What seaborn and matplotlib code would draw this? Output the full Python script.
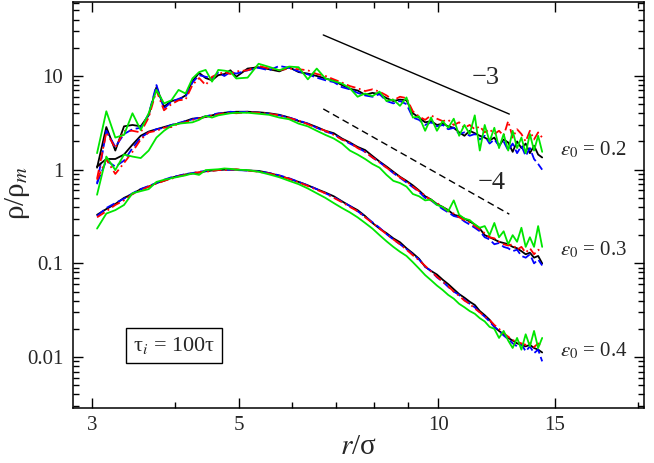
import numpy as np
import matplotlib
matplotlib.use('Agg')
import matplotlib.pyplot as plt
import seaborn as sns
from matplotlib.ticker import LogLocator, NullFormatter

# radial bins (r / sigma)
r_sigma = [3.05, 3.15, 3.25, 3.35, 3.45, 3.55, 3.65, 3.75, 3.85, 3.95,
           4.05, 4.15, 4.25, 4.35, 4.45, 4.55, 4.65, 4.75, 4.85, 4.95,
           5.15, 5.35, 5.55, 5.75, 5.95, 6.15, 6.35, 6.55, 6.75, 6.95,
           7.15, 7.35, 7.55, 7.75, 7.95, 8.15, 8.35, 8.55, 8.75, 8.95,
           9.15, 9.35, 9.55, 9.75, 9.95, 10.15, 10.35, 10.55, 10.75, 10.95,
           11.15, 11.35, 11.55, 11.75, 11.95, 12.15, 12.35, 12.55, 12.75, 12.95,
           13.15, 13.35, 13.55, 13.75, 13.95, 14.15, 14.35]

# eps0 = 0.2 (top family)
e02_black = [1.05, 2.85, 1.60, 2.90, 3.00, 2.90, 3.80, 7.60, 4.70, 5.40,
             5.60, 6.20, 8.80, 10.8, 9.50, 9.00, 10.2, 10.5, 11.5, 9.80,
             12.0, 12.4, 11.8, 11.2, 12.4, 11.0, 10.6, 10.0, 9.40, 8.90,
             8.00, 7.30, 7.00, 6.30, 6.60, 6.40, 5.80, 5.40, 5.60, 5.50,
             4.00, 3.60, 3.20, 3.30, 3.00, 3.10, 2.90, 2.80, 2.50, 2.30,
             2.60, 2.45, 2.30, 2.20, 2.05, 2.20, 1.80, 2.10, 1.95, 1.55,
             2.00, 1.70, 1.90, 1.50, 1.80, 1.45, 1.35]
e02_blue = [0.70, 2.60, 1.75, 2.40, 2.70, 2.80, 3.90, 8.00, 4.50, 5.30,
            5.70, 6.00, 8.50, 10.2, 9.80, 9.50, 10.8, 10.0, 11.0, 10.6,
            11.5, 12.2, 11.5, 12.8, 12.2, 11.2, 10.4, 9.60, 9.00, 8.60,
            7.60, 7.20, 6.60, 6.20, 6.00, 6.40, 5.40, 5.10, 5.40, 5.00,
            3.60, 3.40, 3.00, 3.20, 2.90, 3.00, 2.70, 2.80, 2.40, 2.50,
            2.30, 2.40, 2.10, 2.30, 1.90, 2.10, 1.80, 2.00, 1.60, 1.90,
            1.50, 1.80, 1.40, 1.70, 1.30, 1.15, 1.00]
e02_red = [0.80, 2.50, 1.70, 2.60, 2.60, 2.50, 3.60, 7.00, 4.30, 5.00,
           5.50, 5.60, 8.00, 9.50, 8.00, 9.80, 10.5, 11.0, 10.5, 11.2,
           11.5, 12.8, 12.0, 11.5, 12.0, 11.8, 11.5, 10.5, 10.0, 9.20,
           8.50, 7.80, 7.40, 6.90, 7.20, 6.80, 6.20, 5.50, 6.00, 5.80,
           4.20, 3.70, 3.40, 3.80, 3.50, 3.30, 3.40, 3.00, 3.20, 2.80,
           3.00, 2.70, 2.90, 2.50, 2.70, 2.40, 2.60, 2.30, 3.30, 2.20,
           2.70, 2.40, 2.00, 2.60, 2.10, 2.50, 2.20]
e02_green = [1.50, 4.20, 2.20, 2.35, 4.00, 2.65, 4.00, 7.10, 5.10, 5.50,
             7.10, 6.50, 9.40, 11.0, 11.6, 8.70, 11.6, 11.4, 11.1, 9.40,
             9.60, 13.5, 12.5, 11.5, 12.6, 12.4, 9.20, 12.0, 9.40, 8.80,
             8.30, 7.40, 6.00, 6.50, 6.10, 6.80, 5.40, 5.60, 4.80, 5.90,
             3.60, 3.70, 2.60, 3.60, 2.60, 3.30, 2.80, 3.50, 2.30, 3.00,
             2.40, 3.80, 1.60, 3.00, 2.00, 2.80, 1.70, 2.40, 1.60, 2.60,
             1.70, 2.20, 1.50, 2.40, 1.60, 2.30, 1.55]

# eps0 = 0.3 (middle family)
e03_black = [1.08, 1.30, 1.30, 1.45, 1.85, 2.30, 2.55, 2.70, 2.85, 3.00,
             3.10, 3.30, 3.50, 3.55, 3.65, 3.80, 3.95, 4.05, 4.10, 4.15,
             4.15, 4.10, 4.00, 3.85, 3.60, 3.30, 3.10, 2.85, 2.60, 2.45,
             2.15, 1.95, 1.75, 1.62, 1.40, 1.22, 1.08, 0.95, 0.84, 0.76,
             0.68, 0.60, 0.52, 0.48, 0.43, 0.40, 0.37, 0.33, 0.32, 0.30,
             0.28, 0.26, 0.235, 0.20, 0.19, 0.18, 0.17, 0.165, 0.16, 0.15,
             0.145, 0.135, 0.125, 0.13, 0.115, 0.12, 0.10]
e03_blue = [0.72, 1.25, 1.08, 1.25, 1.70, 2.20, 2.50, 2.70, 2.80, 3.00,
            3.15, 3.30, 3.45, 3.60, 3.70, 3.85, 4.00, 4.00, 4.15, 4.10,
            4.15, 4.05, 3.95, 3.80, 3.60, 3.35, 3.10, 2.80, 2.55, 2.40,
            2.10, 1.90, 1.72, 1.55, 1.35, 1.20, 1.05, 0.92, 0.82, 0.73,
            0.65, 0.58, 0.50, 0.47, 0.42, 0.38, 0.35, 0.32, 0.31, 0.28,
            0.26, 0.24, 0.22, 0.19, 0.18, 0.16, 0.165, 0.15, 0.145, 0.135,
            0.14, 0.12, 0.115, 0.125, 0.10, 0.11, 0.095]
e03_red = [0.78, 1.29, 0.90, 1.18, 1.55, 2.10, 2.50, 2.60, 2.80, 2.85,
           3.10, 3.20, 3.40, 3.50, 3.70, 3.75, 3.90, 4.00, 4.05, 4.00,
           4.10, 4.05, 3.95, 3.80, 3.55, 3.35, 3.05, 2.80, 2.60, 2.35,
           2.10, 1.95, 1.70, 1.55, 1.35, 1.20, 1.05, 0.93, 0.83, 0.75,
           0.66, 0.59, 0.53, 0.47, 0.44, 0.40, 0.36, 0.34, 0.31, 0.29,
           0.275, 0.25, 0.23, 0.21, 0.19, 0.185, 0.17, 0.16, 0.155, 0.16,
           0.14, 0.15, 0.13, 0.145, 0.125, 0.14, 0.13]
e03_green = [0.54, 1.38, 0.99, 1.45, 1.38, 1.33, 1.60, 2.20, 2.60, 2.95,
             3.10, 3.15, 3.20, 3.40, 3.75, 3.60, 3.80, 3.90, 4.00, 4.05,
             4.05, 3.95, 3.85, 3.60, 3.45, 3.10, 2.90, 2.60, 2.35, 2.15,
             1.90, 1.60, 1.45, 1.30, 1.15, 1.05, 0.88, 0.76, 0.72, 0.66,
             0.55, 0.52, 0.47, 0.48, 0.42, 0.40, 0.36, 0.47, 0.33, 0.30,
             0.29, 0.26, 0.24, 0.25, 0.20, 0.27, 0.19, 0.22, 0.16, 0.20,
             0.17, 0.24, 0.15, 0.19, 0.15, 0.25, 0.15]

# eps0 = 0.4 (bottom family)
e04_black = [0.33, 0.38, 0.43, 0.50, 0.55, 0.62, 0.66, 0.72, 0.76, 0.82,
             0.86, 0.89, 0.91, 0.93, 0.96, 0.98, 0.99, 1.00, 1.00, 1.00,
             0.98, 0.97, 0.92, 0.86, 0.80, 0.74, 0.68, 0.62, 0.57, 0.52,
             0.46, 0.41, 0.37, 0.32, 0.27, 0.235, 0.21, 0.185, 0.168, 0.145,
             0.128, 0.112, 0.092, 0.083, 0.076, 0.067, 0.060, 0.053, 0.047, 0.043,
             0.039, 0.036, 0.031, 0.028, 0.025, 0.021, 0.019, 0.0175, 0.016, 0.015,
             0.014, 0.0135, 0.013, 0.0135, 0.0125, 0.012, 0.0112]
e04_blue = [0.32, 0.39, 0.44, 0.49, 0.56, 0.62, 0.67, 0.72, 0.78, 0.83,
            0.86, 0.90, 0.92, 0.95, 0.97, 0.98, 0.99, 1.00, 1.00, 0.99,
            0.98, 0.96, 0.92, 0.87, 0.81, 0.74, 0.68, 0.62, 0.56, 0.51,
            0.455, 0.41, 0.36, 0.315, 0.275, 0.24, 0.205, 0.18, 0.16, 0.142,
            0.125, 0.11, 0.092, 0.083, 0.071, 0.064, 0.056, 0.050, 0.046, 0.041,
            0.037, 0.034, 0.030, 0.027, 0.024, 0.021, 0.019, 0.017, 0.0155, 0.014,
            0.013, 0.0138, 0.0115, 0.013, 0.011, 0.012, 0.0090]
e04_red = [0.31, 0.36, 0.42, 0.47, 0.55, 0.60, 0.66, 0.71, 0.76, 0.80,
           0.85, 0.88, 0.92, 0.94, 0.95, 0.97, 0.99, 0.99, 1.00, 1.01,
           0.98, 0.95, 0.91, 0.86, 0.80, 0.73, 0.67, 0.61, 0.56, 0.50,
           0.45, 0.40, 0.36, 0.31, 0.27, 0.235, 0.205, 0.18, 0.16, 0.14,
           0.122, 0.108, 0.094, 0.082, 0.072, 0.064, 0.057, 0.050, 0.045, 0.040,
           0.037, 0.033, 0.030, 0.027, 0.025, 0.022, 0.020, 0.018, 0.0165, 0.0152,
           0.0145, 0.014, 0.0135, 0.0142, 0.0128, 0.014, 0.0125]
e04_green = [0.235, 0.34, 0.37, 0.42, 0.56, 0.59, 0.62, 0.74, 0.78, 0.81,
             0.84, 0.87, 0.91, 0.88, 0.99, 1.00, 1.01, 1.03, 1.02, 1.00,
             0.99, 0.95, 0.89, 0.83, 0.76, 0.70, 0.63, 0.56, 0.50, 0.44,
             0.39, 0.35, 0.31, 0.27, 0.235, 0.20, 0.172, 0.15, 0.133, 0.12,
             0.103, 0.088, 0.075, 0.066, 0.058, 0.052, 0.046, 0.042, 0.037, 0.034,
             0.031, 0.029, 0.026, 0.024, 0.021, 0.020, 0.016, 0.019, 0.015, 0.0125,
             0.016, 0.012, 0.0175, 0.013, 0.019, 0.0125, 0.016]

# guide lines (end points)
slope3_x = [6.7, 12.8]
slope3_y = [27.4, 3.92]
slope4_x = [6.7, 12.8]
slope4_y = [4.45, 0.335]

x_ticks = [3, 5, 10, 15]
x_tick_labels = ['3', '5', '10', '15']
x_minor = [4, 6, 7, 8, 9, 20]
y_ticks = [0.01, 0.1, 1, 10]
y_tick_labels = ['0.01', '0.1', '1', '10']

# Style
sns.set_style('ticks')
plt.rcParams['font.family'] = ['Liberation Serif', 'DejaVu Serif']
plt.rcParams['mathtext.fontset'] = 'stix'

fig = plt.figure(figsize=(6.54, 4.63), dpi=100)
ax = fig.add_axes([0.1116, 0.1194, 0.8731, 0.8763])

solid = '-'
dashed = (0, (5, 2))
dashdot = (0, (5, 2, 1, 2))

families = [
    [(e02_black, 'black', solid), (e02_blue, '#0000ff', dashed),
     (e02_red, '#ff0000', dashdot), (e02_green, '#00e600', solid)],
    [(e03_black, 'black', solid), (e03_blue, '#0000ff', dashed),
     (e03_red, '#ff0000', dashdot), (e03_green, '#00e600', solid)],
    [(e04_black, 'black', solid), (e04_blue, '#0000ff', dashed),
     (e04_red, '#ff0000', dashdot), (e04_green, '#00e600', solid)],
]

for fam in families:
    for vals, col, ls in fam:
        sns.lineplot(x=r_sigma, y=vals, color=col, linestyle=ls, linewidth=1.3,
                     errorbar=None, ax=ax)

sns.lineplot(x=slope3_x, y=slope3_y, color='black', linewidth=1.0, errorbar=None, ax=ax)
sns.lineplot(x=slope4_x, y=slope4_y, color='black', linewidth=1.0,
             linestyle=(0, (5, 3)), errorbar=None, ax=ax)

ax.set_xscale('log')
ax.set_yscale('log')
ax.set_xlim(2.805, 20.45)
ax.set_ylim(0.00288, 61.6)

ax.set_xticks(x_ticks, labels=x_tick_labels)
ax.set_xticks(x_minor, minor=True)
ax.xaxis.set_minor_formatter(NullFormatter())
ax.set_yticks(y_ticks, labels=y_tick_labels)
ax.yaxis.set_minor_locator(LogLocator(base=10, subs=np.arange(2, 10)))
ax.yaxis.set_minor_formatter(NullFormatter())

ax.tick_params(which='both', direction='in', top=True, right=True,
               width=1.0, labelsize=15, color='black')
ax.tick_params(which='major', length=7.5)
ax.tick_params(which='minor', length=4)
ax.tick_params(axis='x', pad=6)
ax.tick_params(axis='y', pad=7)
for sp in ax.spines.values():
    sp.set_linewidth(1.1)
    sp.set_color('black')

ax.set_xlabel('$r$/σ', fontsize=21)
ax.xaxis.set_label_coords(0.5, -0.065)
ax.set_ylabel('ρ/ρ$_m$', fontsize=21)
ax.yaxis.set_label_coords(-0.072, 0.53)

# annotations
ax.text(15.26, 1.62, r'$\epsilon_0$ = 0.2', fontsize=15, ha='left', va='center')
ax.text(15.26, 0.139, r'$\epsilon_0$ = 0.3', fontsize=15, ha='left', va='center')
ax.text(15.26, 0.0116, r'$\epsilon_0$ = 0.4', fontsize=15, ha='left', va='center')
ax.text(11.8, 9.5, '−3', fontsize=19, ha='center', va='center')
ax.text(12.05, 0.72, '−4', fontsize=19, ha='center', va='center')
ax.text(0.177, 0.153, 'τ$_i$ = 100τ', transform=ax.transAxes, fontsize=16,
        ha='center', va='center',
        bbox=dict(boxstyle='square,pad=0.3', facecolor='white', edgecolor='black', linewidth=1.0))

fig.savefig('out.png', dpi=100)
